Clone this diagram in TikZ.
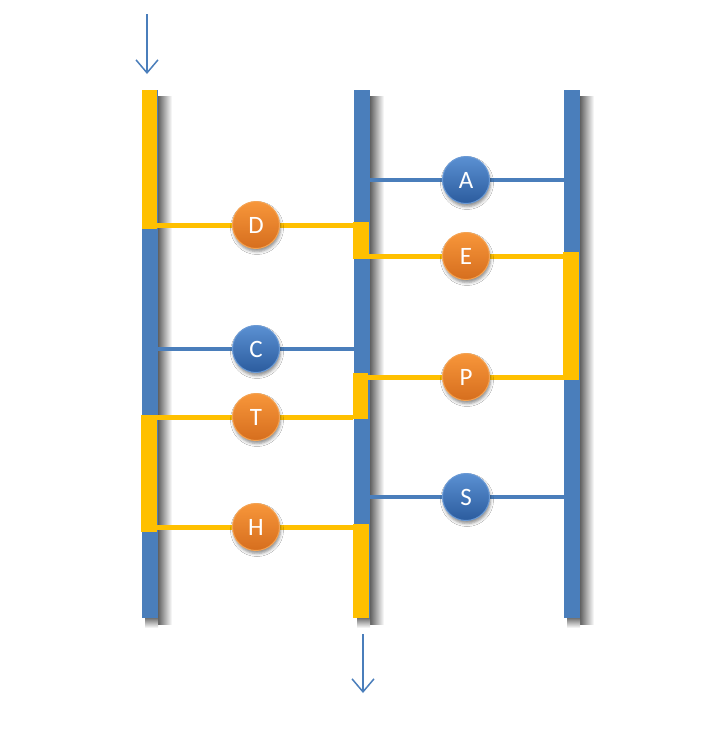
\documentclass[tikz,border=0pt]{standalone}
\usepackage{fontspec}
\setmainfont{Carlito}
\usetikzlibrary{arrows.meta,shadows.blur}
\pgfdeclarelayer{fg}
\pgfsetlayers{main,fg}
\definecolor{barblue}{HTML}{4A7EBB}
\definecolor{baryel}{HTML}{FFC000}
\definecolor{otop}{HTML}{F7963A}
\definecolor{obot}{HTML}{D66E1E}
\definecolor{orim}{HTML}{F5A352}
\definecolor{btop}{HTML}{5B90D2}
\definecolor{bbot}{HTML}{2B5C9E}
\definecolor{brim}{HTML}{6A9AD6}
\tikzset{
  sideshade/.style={left color=black!62,right color=white,draw=none},
  footshade/.style={top color=black!55,bottom color=white,draw=none},
  bluebar/.style={fill=barblue},
  yelbar/.style={fill=baryel},
  yline/.style={draw=baryel,line width=5pt},
  bline/.style={draw=barblue,line width=4pt},
  rung/.style={circle,minimum size=47pt,inner sep=0pt,text=white,font=\fontsize{25}{25}\selectfont,
    blur shadow={shadow xshift=1pt,shadow yshift=-3pt,shadow blur radius=3pt,shadow opacity=45}},
  ocirc/.style={rung,top color=otop,bottom color=obot,draw=orim,line width=1pt},
  bcirc/.style={rung,top color=btop,bottom color=bbot,draw=brim,line width=1pt},
  flow/.style={draw=barblue,line width=1.5pt,-{Straight Barb[length=13pt,width=22pt,line width=1.5pt]}}
}
\begin{document}
\begin{tikzpicture}[x=1pt,y=-1pt]
\useasboundingbox[fill=white] (0,0) rectangle (728,740);
% bar shadows
\foreach \x in {142,354,564}{
  \shade[sideshade] (\x+16,96) rectangle (\x+30,624);
  \shade[footshade] (\x+3,618) rectangle (\x+16,628);
}
% bars
\fill[bluebar] (142,90) rectangle (158,618);
\fill[bluebar] (354,90) rectangle (370,618);
\fill[bluebar] (564,90) rectangle (580,618);
% yellow segments
\fill[yelbar] (142,90) rectangle (157,229);
\fill[yelbar] (353,222) rectangle (369,259);
\fill[yelbar] (563,252) rectangle (579,380);
\fill[yelbar] (353,373) rectangle (368,419);
\fill[yelbar] (141,415) rectangle (157,532);
\fill[yelbar] (353,524) rectangle (369,618);
% rung end points
\coordinate (dl) at (157,225); \coordinate (dr) at (354,225);
\coordinate (al) at (370,180); \coordinate (ar) at (564,180);
\coordinate (el) at (369,256); \coordinate (er) at (564,256);
\coordinate (cl) at (158,349); \coordinate (cr) at (354,349);
\coordinate (pl) at (368,377); \coordinate (pr) at (564,377);
\coordinate (tl) at (157,417); \coordinate (tr) at (353,417);
\coordinate (sl) at (370,497); \coordinate (sr) at (564,497);
\coordinate (hl) at (157,527); \coordinate (hr) at (354,527);
% circles (nodes), on the front layer
\begin{pgfonlayer}{fg}
\node[ocirc] (D) at (256,225) {D};
\node[bcirc] (A) at (466,180) {A};
\node[ocirc] (E) at (466,256) {E};
\node[bcirc] (C) at (256,349) {C};
\node[ocirc] (P) at (466,377) {P};
\node[ocirc] (T) at (256,417) {T};
\node[bcirc] (S) at (466,497) {S};
\node[ocirc] (H) at (256,527) {H};
\end{pgfonlayer}
% rungs
\path[yline] (dl) -- (D) -- (dr);
\path[bline] (al) -- (A) -- (ar);
\path[yline] (el) -- (E) -- (er);
\path[bline] (cl) -- (C) -- (cr);
\path[yline] (pl) -- (P) -- (pr);
\path[yline] (tl) -- (T) -- (tr);
\path[bline] (sl) -- (S) -- (sr);
\path[yline] (hl) -- (H) -- (hr);
% flow arrows
\coordinate (in0) at (147,14); \coordinate (in1) at (147,74);
\coordinate (out0) at (363,634); \coordinate (out1) at (363,693);
\draw[flow] (in0) -- (in1);
\draw[flow] (out0) -- (out1);
\end{tikzpicture}
\end{document}
